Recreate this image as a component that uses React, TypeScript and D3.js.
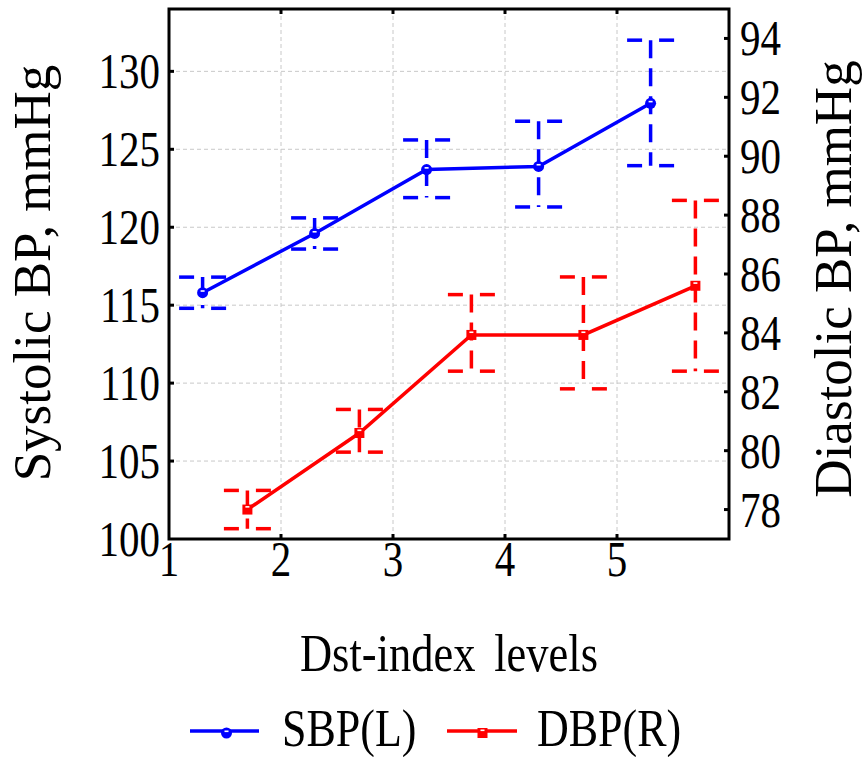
import React from "react";
import * as d3 from "d3";

const X_TICKS = [1, 2, 3, 4, 5];
const LEFT_TICKS = [100, 105, 110, 115, 120, 125, 130];
const RIGHT_TICKS = [78, 80, 82, 84, 86, 88, 90, 92, 94];

const sbpX = [1.3, 2.3, 3.3, 4.3, 5.3];
const sbpMean = [115.8, 119.6, 123.7, 123.9, 127.95];
const sbpUpper = [116.8, 120.6, 125.6, 126.8, 132.0];
const sbpLower = [114.8, 118.6, 121.9, 121.3, 123.95];

const dbpX = [1.7, 2.7, 3.7, 4.7, 5.7];
const dbpMean = [78.0, 80.6, 83.93, 83.93, 85.6];
const dbpUpper = [78.65, 81.4, 85.3, 85.9, 88.5];
const dbpLower = [77.35, 79.95, 82.7, 82.1, 82.7];

const W = 863;
const H = 757;
const M = { left: 169, right: 729, top: 9, bottom: 539 };
const FONT = "'Liberation Serif', 'Times New Roman', serif";
const SX = 0.82;

const x = d3.scaleLinear().domain([1, 6]).range([M.left, M.right]);
const yL = d3.scaleLinear().domain([100, 134]).range([M.bottom, M.top]);
const yR = d3.scaleLinear().domain([77, 95]).range([M.bottom, M.top]);

function HText({ x, y, anchor = "start", size = 50, sx = SX, wordSpacing = 0, children }: any) {
  return (
    <text
      transform={`translate(${x},${y}) scale(${sx},1)`}
      textAnchor={anchor}
      fontFamily={FONT}
      fontSize={size}
      wordSpacing={wordSpacing}
      fill="#000"
    >
      {children}
    </text>
  );
}

function ErrorBars({ xs, lo, hi, y, color }: any) {
  const cap = 23.5;
  return (
    <g stroke={color} strokeWidth={3.5} fill="none">
      {xs.map((xv: number, i: number) => {
        const cx = x(xv);
        const yt = y(hi[i]);
        const yb = y(lo[i]);
        return (
          <g key={i}>
            <line x1={cx} x2={cx} y1={yt} y2={yb} strokeDasharray="18,10" />
            {[yt, yb].map((yy, j) => (
              <g key={j}>
                <line x1={cx - cap} x2={cx} y1={yy} y2={yy} strokeDasharray="15,40" />
                <line x1={cx + cap} x2={cx} y1={yy} y2={yy} strokeDasharray="15,40" />
              </g>
            ))}
          </g>
        );
      })}
    </g>
  );
}

function Circle({ cx, cy, color }: any) {
  return (
    <g>
      <circle cx={cx} cy={cy} r={5.5} fill={color} />
      <rect x={cx - 2} y={cy - 2.5} width={4} height={1.6} fill="#fff" />
    </g>
  );
}

function Square({ cx, cy, color }: any) {
  return (
    <g>
      <rect x={cx - 5} y={cy - 5} width={10} height={10} fill={color} />
      <rect x={cx - 2} y={cy - 3.5} width={4} height={1.6} fill="#fff" />
    </g>
  );
}

export default function App() {
  const lineL = d3
    .line<number>()
    .x((_, i) => x(sbpX[i]))
    .y((d) => yL(d));
  const lineR = d3
    .line<number>()
    .x((_, i) => x(dbpX[i]))
    .y((d) => yR(d));

  const gridX = X_TICKS.filter((t) => t > 1);
  const gridY = LEFT_TICKS.filter((t) => t > 100);
  const tickLen = 5;

  return (
    <svg
      width={W}
      height={H}
      style={{ position: "absolute", left: 0, top: 0, background: "#fff" }}
    >
      <rect x={0} y={0} width={W} height={H} fill="#fff" />
      {/* grid */}
      <g stroke="#c8c8c8" strokeWidth={1} strokeDasharray="4,3">
        {gridX.map((t) => (
          <line key={"gx" + t} x1={x(t)} x2={x(t)} y1={M.top} y2={M.bottom} />
        ))}
        {gridY.map((t) => (
          <line key={"gy" + t} x1={M.left} x2={M.right} y1={yL(t)} y2={yL(t)} />
        ))}
      </g>

      {/* error bars */}
      <ErrorBars xs={sbpX} lo={sbpLower} hi={sbpUpper} y={yL} color="#0000ff" />
      <ErrorBars xs={dbpX} lo={dbpLower} hi={dbpUpper} y={yR} color="#ff0000" />

      {/* lines */}
      <path d={lineL(sbpMean) || ""} stroke="#0000ff" strokeWidth={3.5} fill="none" />
      <path d={lineR(dbpMean) || ""} stroke="#ff0000" strokeWidth={3.5} fill="none" />
      {sbpMean.map((v, i) => (
        <Circle key={"c" + i} cx={x(sbpX[i])} cy={yL(v)} color="#0000ff" />
      ))}
      {dbpMean.map((v, i) => (
        <Square key={"s" + i} cx={x(dbpX[i])} cy={yR(v)} color="#ff0000" />
      ))}

      {/* frame and ticks */}
      <g stroke="#000" strokeWidth={3} fill="none">
        <rect x={M.left} y={M.top} width={M.right - M.left} height={M.bottom - M.top} />
        {gridX.map((t) => (
          <g key={"tx" + t}>
            <line x1={x(t)} x2={x(t)} y1={M.bottom} y2={M.bottom - tickLen} />
            <line x1={x(t)} x2={x(t)} y1={M.top} y2={M.top + tickLen} />
          </g>
        ))}
        {gridY.map((t) => (
          <line key={"tl" + t} x1={M.left} x2={M.left + tickLen} y1={yL(t)} y2={yL(t)} />
        ))}
        {RIGHT_TICKS.map((t) => (
          <line key={"tr" + t} x1={M.right} x2={M.right - tickLen} y1={yR(t)} y2={yR(t)} />
        ))}
      </g>

      {/* tick labels */}
      {LEFT_TICKS.map((t) => (
        <HText key={"ll" + t} x={160} y={yL(t) + 17} anchor="end">
          {t}
        </HText>
      ))}
      {RIGHT_TICKS.map((t) => (
        <HText key={"rl" + t} x={740} y={yR(t) + 17} anchor="start">
          {t}
        </HText>
      ))}
      {X_TICKS.map((t) => (
        <HText key={"xl" + t} x={x(t)} y={576} anchor="middle">
          {t}
        </HText>
      ))}

      {/* axis titles */}
      <HText x={(M.left + M.right) / 2} y={671} anchor="middle" size={53} sx={0.84} wordSpacing={9}>
        Dst-index levels
      </HText>
      <text
        transform={`translate(50,273) rotate(-90)`}
        textAnchor="middle"
        fontFamily={FONT}
        fontSize={53}
      >
        Systolic BP, mmHg
      </text>
      <text
        transform={`translate(851,279) rotate(-90)`}
        textAnchor="middle"
        fontFamily={FONT}
        fontSize={53}
      >
        Diastolic BP, mmHg
      </text>

      {/* legend */}
      <g>
        <line x1={190} x2={259} y1={731} y2={731} stroke="#0000ff" strokeWidth={3.5} />
        <Circle cx={226.5} cy={733} color="#0000ff" />
        <HText x={282} y={746} size={53} sx={0.83}>
          SBP(L)
        </HText>
        <line x1={447} x2={517} y1={731} y2={731} stroke="#ff0000" strokeWidth={3.5} />
        <Square cx={482.5} cy={733} color="#ff0000" />
        <HText x={537} y={746} size={53} sx={0.83}>
          DBP(R)
        </HText>
      </g>
    </svg>
  );
}
